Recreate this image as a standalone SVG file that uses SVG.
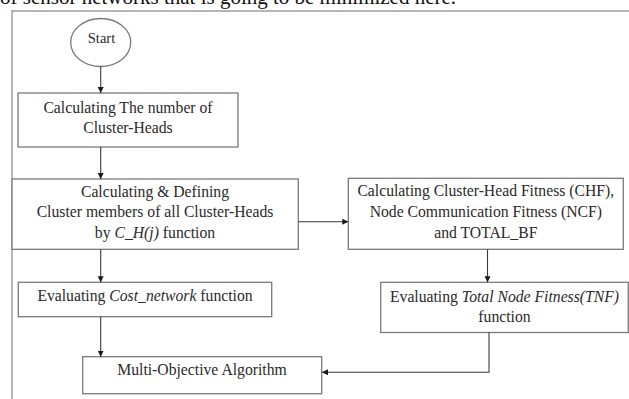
<svg xmlns="http://www.w3.org/2000/svg" width="629" height="399" viewBox="0 0 629 399">
<style>
text{font-family:"Liberation Serif","Times New Roman",serif;fill:#2a2a2a;font-size:15.7px;text-anchor:middle}
.box{fill:#fff;stroke:#7a7a7a;stroke-width:1.3}
.con{fill:none;stroke:#3a3a3a;stroke-width:1.1}
.it{font-style:italic}
</style>
<defs>
<marker id="ah" markerUnits="userSpaceOnUse" markerWidth="8" markerHeight="8" refX="6" refY="3" orient="auto">
<path d="M0,0 L6,3 L0,6 Z" fill="#1a1a1a"/>
</marker>
</defs>
<rect width="629" height="399" fill="#fff"/>
<text x="0" y="4" style="font-size:21px;text-anchor:start;fill:#111">of sensor networks that is going to be minimized here.</text>
<g id="frame">
<line x1="12" y1="11" x2="629" y2="11" stroke="#b5b5b5" stroke-width="2"/>
<line x1="12" y1="10" x2="12" y2="399" stroke="#9a9a9a" stroke-width="1.4"/>
</g>
<g id="start">
<ellipse cx="100.7" cy="42.5" rx="30" ry="24" fill="#fff" stroke="#7a7a7a" stroke-width="1.3"/>
<text x="101.5" y="43" style="font-size:14.5px">Start</text>
</g>
<g id="n1">
<rect class="box" x="18" y="93" width="220" height="54"/>
<text x="128" y="113.3">Calculating The number of</text>
<text x="128" y="132.7">Cluster-Heads</text>
</g>
<g id="n2">
<rect class="box" x="12" y="179" width="286.3" height="70.3"/>
<text x="155" y="196.7">Calculating &amp; Defining</text>
<text x="155" y="217.3">Cluster members of all Cluster-Heads</text>
<text x="155" y="238.3">by <tspan class="it">C_H(j)</tspan> function</text>
</g>
<g id="n3">
<rect class="box" x="348.3" y="178.3" width="275" height="71"/>
<text x="485.8" y="195.7">Calculating Cluster-Head Fitness (CHF),</text>
<text x="485.8" y="216.7">Node Communication Fitness (NCF)</text>
<text x="485.8" y="237.7">and TOTAL_BF</text>
</g>
<g id="n4">
<rect class="box" x="18.3" y="282.3" width="253.4" height="34.4"/>
<text x="145" y="300.7">Evaluating <tspan class="it">Cost_network</tspan> function</text>
</g>
<g id="n5">
<rect class="box" x="380.7" y="282.3" width="247.6" height="50.2"/>
<text x="504.5" y="301.7">Evaluating <tspan class="it">Total Node Fitness(TNF)</tspan></text>
<text x="504.5" y="321.7">function</text>
</g>
<g id="n6">
<rect class="box" x="82.7" y="356.7" width="239" height="37"/>
<text x="202" y="375">Multi-Objective Algorithm</text>
</g>
<g id="connectors">
<line class="con" x1="100.7" y1="66.5" x2="100.7" y2="93" marker-end="url(#ah)"/>
<line class="con" x1="100.7" y1="147" x2="100.7" y2="179" marker-end="url(#ah)"/>
<line class="con" x1="298.3" y1="221.7" x2="348.3" y2="221.7" marker-end="url(#ah)"/>
<line class="con" x1="487.5" y1="249.3" x2="487.5" y2="282.3" marker-end="url(#ah)"/>
<line class="con" x1="100.7" y1="249.3" x2="100.7" y2="282.3" marker-end="url(#ah)"/>
<line class="con" x1="100.7" y1="316.7" x2="100.7" y2="356.7" marker-end="url(#ah)"/>
<polyline class="con" points="489,332.5 489,372.3 322,372.3" marker-end="url(#ah)"/>
</g>
</svg>
